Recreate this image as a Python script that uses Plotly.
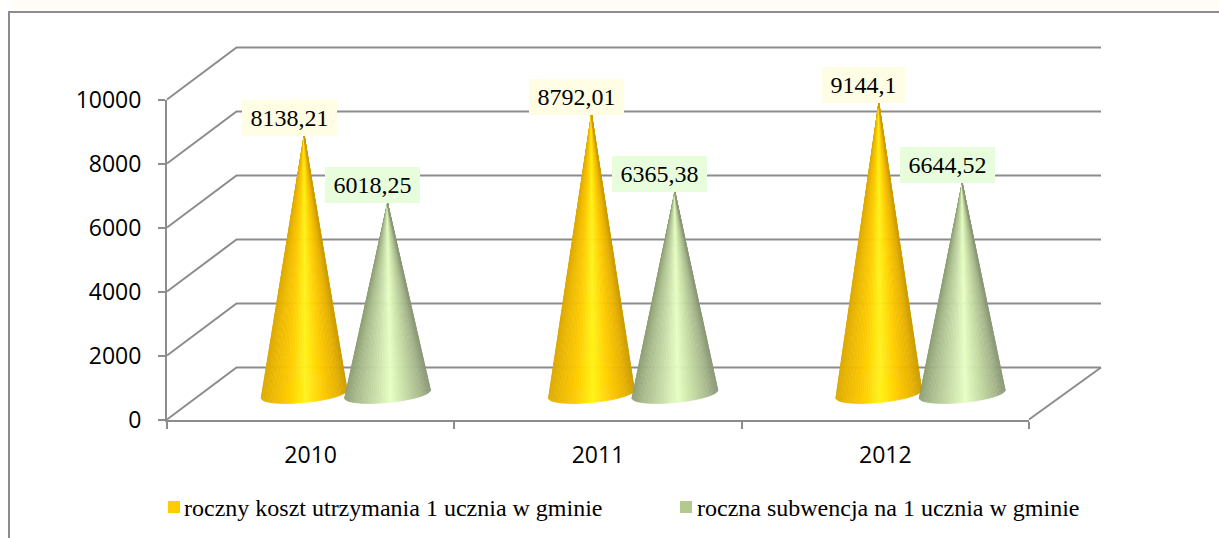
import numpy as np
import plotly.graph_objects as go

# dane z wykresu
lata = ['2010', '2011', '2012']
koszt = [8138.21, 8792.01, 9144.1]
subwencja = [6018.25, 6365.38, 6644.52]
koszt_etykiety = ['8138,21', '8792,01', '9144,1']
subwencja_etykiety = ['6018,25', '6365,38', '6644,52']
nazwy_serii = ['roczny koszt utrzymania 1 ucznia w gminie', 'roczna subwencja na 1 ucznia w gminie']
y_ticks = [0, 2000, 4000, 6000, 8000, 10000]

W, H = 1219, 538
PX_KAT = 287.33   # piksele na jedna kategorie
PX_WART = 0.032   # piksele na jednostke osi y
X0, Y0 = 167.0, 419.5

# przesuniecie tylnej sciany (glebia 3D) w jednostkach osi
GLEB_X = 69.5 / PX_KAT
GLEB_X_PRAWA = 72 / PX_KAT
GLEB_Y = 52 / PX_WART

# stozki
ODST = 41.7 / PX_KAT
SR_X = 35.2 / PX_KAT
A = 43 / PX_KAT
B = 8.6 / PX_WART
TILT = 4 / PX_WART
PODST = 25.5 / PX_WART   # srodek podstawy
SZCZYT = 23.5 / PX_WART  # poziom odniesienia wierzcholka
N = 60

SZARY = '#8c8c8c'
ZOLTY = [(0, '#dcaa00'), (0.12, '#ecb800'), (0.32, '#ffcc00'), (0.52, '#fff31a'), (0.72, '#ffcc00'), (0.9, '#e8b200'), (1, '#cc9e00')]
ZIELONY = [(0, '#8f9f74'), (0.14, '#aabd8e'), (0.34, '#c8dba8'), (0.54, '#e6ffc4'), (0.72, '#c6dca4'), (0.9, '#a6b68c'), (1, '#8c9878')]


def kolor(skala, t):
    for (t0, c0), (t1, c1) in zip(skala, skala[1:]):
        if t <= t1:
            f = (t - t0) / (t1 - t0)
            rgb0 = [int(c0[i:i + 2], 16) for i in (1, 3, 5)]
            rgb1 = [int(c1[i:i + 2], 16) for i in (1, 3, 5)]
            return 'rgb(%d,%d,%d)' % tuple(round(a + (b - a) * f) for a, b in zip(rgb0, rgb1))
    return skala[-1][1]


def stozek(fig, cx, wartosc, skala):
    # paski od lewej do prawej krawedzi, wierzcholek wspolny
    kat = np.linspace(np.pi, 2 * np.pi, N + 1)
    xs = cx + A * np.cos(kat)
    ys = PODST + TILT * np.cos(kat) + B * np.sin(kat)
    szczyt = SZCZYT + wartosc
    for i in range(N):
        t = (xs[i] + xs[i + 1] - 2 * cx + 2 * A) / (4 * A)
        c = kolor(skala, t)
        fig.add_trace(go.Scatter(
            x=[cx, xs[i], xs[i + 1], cx], y=[szczyt, ys[i], ys[i + 1], szczyt],
            xaxis='x2', yaxis='y2', mode='lines', fill='toself', fillcolor=c,
            line=dict(color=c, width=0.6), hoverinfo='skip', showlegend=False))


fig = go.Figure()

# sciana tylna i podloga - osie na calym obrazku, bo linie sa przycinane do obszaru osi
for v in y_ticks:
    fig.add_trace(go.Scatter(
        x=[-0.5, -0.5 + GLEB_X, 2.5 + GLEB_X_PRAWA], y=[v, v + GLEB_Y, v + GLEB_Y],
        mode='lines', line=dict(color=SZARY, width=2), hoverinfo='skip', showlegend=False))
fig.add_trace(go.Scatter(
    x=[2.5, 2.5 + GLEB_X_PRAWA], y=[0, GLEB_Y],
    mode='lines', line=dict(color=SZARY, width=2), hoverinfo='skip', showlegend=False))

for i in range(len(lata)):
    stozek(fig, i + SR_X - ODST, koszt[i], ZOLTY)
    stozek(fig, i + SR_X + ODST, subwencja[i], ZIELONY)

# etykiety danych
for i in range(len(lata)):
    for wart, tekst, tlo, dx in [(koszt[i], koszt_etykiety[i], '#fffde4', -ODST),
                                 (subwencja[i], subwencja_etykiety[i], '#e8fddc', ODST)]:
        fig.add_annotation(
            xref='x2', yref='y2',
            x=i + SR_X + dx, y=SZCZYT + wart, text=tekst, showarrow=False,
            xanchor='center', yanchor='bottom', xshift=-15,
            width=12 * len(tekst) + 11, height=36, align='center', valign='middle',
            bgcolor=tlo, borderpad=0, borderwidth=0,
            font=dict(family='Liberation Serif', size=24, color='#000000'))

# legenda
for x_kw, x_tekst, kol, nazwa in [(168, 182, '#ffcc00', nazwy_serii[0]), (680, 695, '#b5c98f', nazwy_serii[1])]:
    fig.add_shape(type='rect', xref='paper', yref='paper',
                  x0=x_kw / W, x1=(x_kw + 12) / W, y0=1 - 513 / H, y1=1 - 501 / H,
                  fillcolor=kol, line_width=0)
    fig.add_annotation(xref='paper', yref='paper', x=x_tekst / W, y=1 - 508 / H, text=nazwa,
                       showarrow=False, xanchor='left', yanchor='middle',
                       font=dict(family='Liberation Serif', size=24, color='#000000'))

# ramka obrazka
fig.add_shape(type='rect', xref='paper', yref='paper', x0=12 / W, x1=1, y0=1 - 10 / H, y1=1,
              fillcolor='#fffdf5', line_width=0, layer='below')
fig.add_shape(type='path', xref='paper', yref='paper',
              path='M %f,0 L %f,%f L 1,%f' % (9 / W, 9 / W, 1 - 12 / H, 1 - 12 / H),
              line=dict(color=SZARY, width=2))

fig.update_layout(
    width=W, height=H, autosize=False, showlegend=False,
    margin=dict(l=0, r=0, t=0, b=0, pad=0, autoexpand=False),
    paper_bgcolor='white', plot_bgcolor='rgba(0,0,0,0)',
    # pelny obrazek, ta sama skala co osie wlasciwe
    xaxis=dict(domain=[0, 1], range=[-0.5 - X0 / PX_KAT, -0.5 + (W - X0) / PX_KAT], visible=False),
    yaxis=dict(domain=[0, 1], range=[-(H - Y0) / PX_WART, Y0 / PX_WART], visible=False),
    # osie wlasciwe
    xaxis2=dict(
        anchor='y2', domain=[X0 / W, (X0 + 3 * PX_KAT) / W], range=[-0.5, 2.5],
        tickvals=[0, 1, 2], ticktext=lata, ticks='', showgrid=False, zeroline=False,
        showline=True, linecolor=SZARY, linewidth=2, ticklabelstandoff=14,
        tickfont=dict(family='Open Sans', size=23, color='#000000'),
        minor=dict(tickvals=[-0.5, 0.5, 1.5, 2.5], ticks='outside', ticklen=7, tickwidth=2, tickcolor=SZARY)),
    yaxis2=dict(
        anchor='x2', domain=[1 - Y0 / H, 1 - (Y0 - 10000 * PX_WART) / H], range=[0, 10000],
        tickvals=y_ticks, ticktext=[str(v) for v in y_ticks],
        ticks='outside', ticklen=7, tickwidth=2, tickcolor=SZARY,
        showgrid=False, zeroline=False, showline=True, linecolor=SZARY, linewidth=2,
        ticklabelstandoff=12,
        tickfont=dict(family='Open Sans', size=23, color='#000000')),
)

fig.write_html('out.html', config={'displayModeBar': False}, post_script='document.body.style.margin="0";')
